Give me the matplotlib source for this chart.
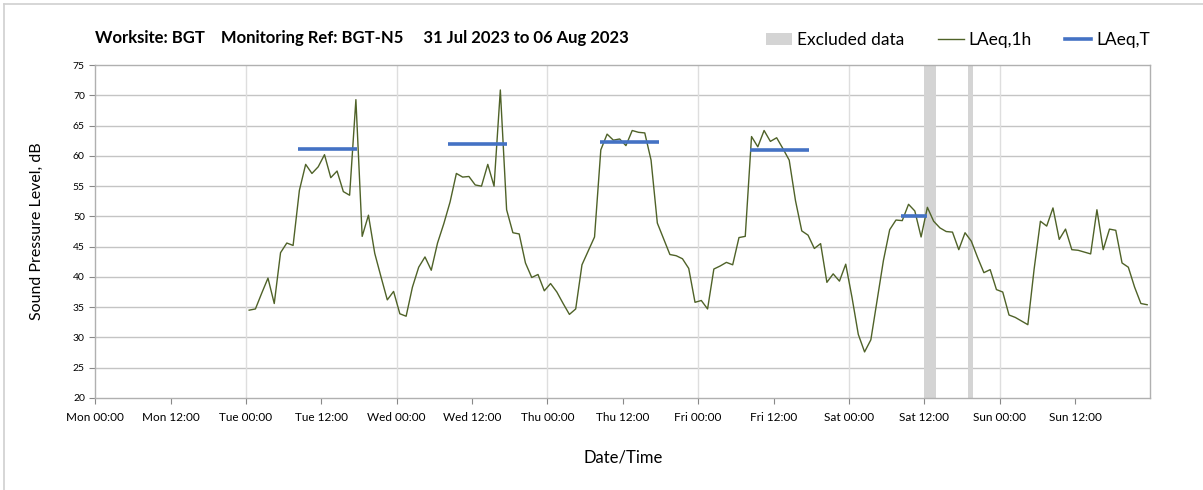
import numpy as np
import matplotlib
matplotlib.use("Agg")
import matplotlib.pyplot as plt
from matplotlib.patches import Patch
from matplotlib.lines import Line2D

# hourly LAeq,1h readings, Tue 00:30 onwards (hours since Mon 00:00)
first_hour = 24.5
laeq_1h = [34.5, 34.7, 37.3, 39.8, 35.6, 44.0, 45.6, 45.2, 54.3, 58.6,
           57.1, 58.2, 60.2, 56.4, 57.5, 54.1, 53.5, 69.3, 46.7, 50.2,
           43.9, 40.0, 36.2, 37.6, 33.9, 33.5, 38.3, 41.6, 43.3, 41.1,
           45.6, 48.8, 52.4, 57.1, 56.5, 56.6, 55.2, 55.0, 58.6, 55.0,
           70.9, 51.1, 47.3, 47.1, 42.3, 39.9, 40.4, 37.7, 38.9, 37.5,
           35.6, 33.8, 34.7, 42.0, 44.3, 46.6, 61.0, 63.6, 62.6, 62.8,
           61.7, 64.2, 63.9, 63.8, 59.3, 48.9, 46.3, 43.7, 43.5, 43.0,
           41.4, 35.8, 36.1, 34.7, 41.3, 41.8, 42.4, 42.0, 46.5, 46.7,
           63.2, 61.5, 64.2, 62.4, 63.0, 61.2, 59.3, 52.6, 47.6, 46.9,
           44.7, 45.5, 39.1, 40.5, 39.3, 42.1, 36.6, 30.5, 27.6, 29.6,
           36.1, 42.7, 47.8, 49.4, 49.3, 52.0, 50.9, 46.6, 51.5, 49.2,
           48.1, 47.5, 47.4, 44.5, 47.3, 45.9, 43.2, 40.7, 41.2, 37.9,
           37.5, 33.7, 33.3, 32.7, 32.1, 41.3, 49.2, 48.4, 51.4, 46.2,
           47.9, 44.5, 44.4, 44.1, 43.8, 51.1, 44.5, 47.9, 47.7, 42.3,
           41.6, 38.3, 35.6, 35.4]

# LAeq,T daytime periods
lat_start = [32.3, 56.2, 80.3, 104.2, 128.3]
lat_end = [41.7, 65.6, 89.7, 113.6, 132.4]
lat_value = [61.1, 62.0, 62.3, 61.0, 50.1]

# excluded data periods
excl_start = [132.0, 138.9]
excl_end = [133.8, 139.8]

tick_labels = ["Mon 00:00", "Mon 12:00", "Tue 00:00", "Tue 12:00",
               "Wed 00:00", "Wed 12:00", "Thu 00:00", "Thu 12:00",
               "Fri 00:00", "Fri 12:00", "Sat 00:00", "Sat 12:00",
               "Sun 00:00", "Sun 12:00"]

hours = first_hour + np.arange(len(laeq_1h))

font = ["Lato", "DejaVu Sans"]
plt.rcParams["font.family"] = font

fig = plt.figure(figsize=(12.03, 4.90), dpi=100)
ax = fig.add_axes([0.0792, 0.188, 0.877, 0.679])

# excluded bands
for s, e in zip(excl_start, excl_end):
    ax.axvspan(s, e, color="#d4d4d4", lw=0, zorder=1)

ax.plot(hours, laeq_1h, color="#4f6228", lw=1.0, zorder=3)
for s, e, v in zip(lat_start, lat_end, lat_value):
    ax.plot([s, e], [v, v], color="#4472c4", lw=2.6, zorder=4,
            solid_capstyle="butt")

ax.set_xlim(0, 168)
ax.set_ylim(20, 75)
ax.set_xticks(np.arange(0, 168, 12))
ax.set_xticklabels(tick_labels, fontsize=8.5)
ax.set_yticks(np.arange(20, 76, 5))
ax.set_yticklabels([str(v) for v in range(20, 76, 5)], fontsize=7.5)
ax.tick_params(axis="both", length=4, color="#888888", width=0.8)
ax.tick_params(axis="x", pad=6)

# gridlines: horizontal every 5 dB, vertical every day
for v in range(25, 75, 5):
    ax.axhline(v, color="#c4c4c4", lw=1.0, zorder=0)
for d in range(24, 168, 24):
    ax.axvline(d, color="#dedede", lw=1.0, zorder=0)

for sp in ax.spines.values():
    sp.set_color("#b0b0b0")
    sp.set_linewidth(1.0)

ax.set_ylabel("Sound Pressure Level, dB", fontsize=11.5, labelpad=21)
ax.set_xlabel("Date/Time", fontsize=12, labelpad=19)

fig.text(0.079, 0.922, "Worksite: BGT    Monitoring Ref: BGT-N5     31 Jul 2023 to 06 Aug 2023",
         fontsize=12, fontweight="bold", va="center", ha="left")

handles = [Patch(facecolor="#d4d4d4", edgecolor="none"),
           Line2D([], [], color="#4f6228", lw=1.0),
           Line2D([], [], color="#4472c4", lw=2.6)]
fig.legend(handles, ["Excluded data", "LAeq,1h", "LAeq,T"],
           loc="center right", bbox_to_anchor=(0.969, 0.918), ncol=3,
           frameon=False, handlelength=1.5, handletextpad=0.3,
           columnspacing=1.9, prop={"size": 12.5})

# outer page frame
fig.add_artist(Line2D([0.0035, 1.0], [0.992, 0.992], color="#d0d0d0", lw=1.2))
fig.add_artist(Line2D([0.0035, 0.0035], [0.0, 0.992], color="#d0d0d0", lw=1.2))

fig.savefig("out.png", dpi=100)
